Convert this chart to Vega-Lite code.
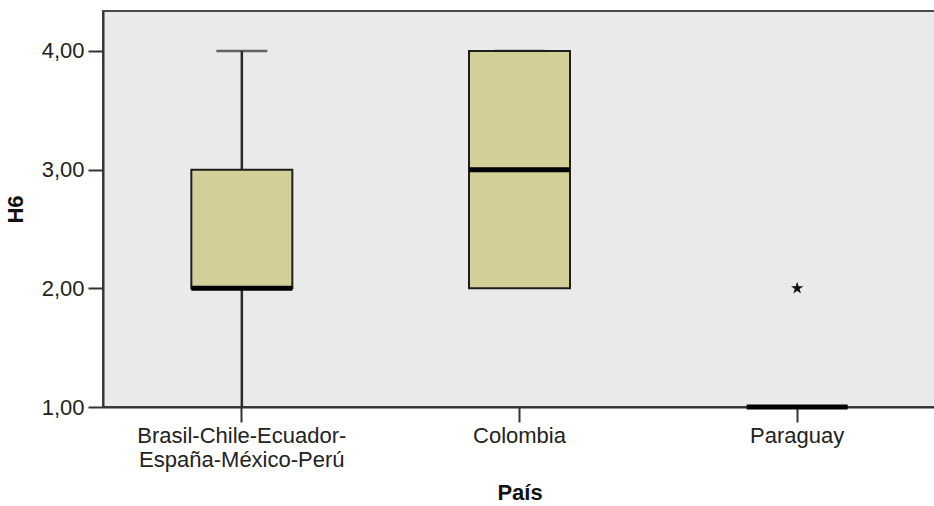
{
  "$schema": "https://vega.github.io/schema/vega-lite/v6.json",
  "width": 833,
  "height": 396,
  "autosize": {"type": "none"},
  "padding": {"left": 103, "top": 11, "right": 0, "bottom": 99},
  "background": "white",
  "config": {
    "view": {"fill": "#EAEAEA", "stroke": "#4a4a4a", "strokeWidth": 2},
    "font": "Liberation Sans",
    "axis": {
      "labelFont": "Liberation Sans",
      "titleFont": "Liberation Sans",
      "labelFontSize": 22,
      "titleFontSize": 22,
      "labelColor": "#222222",
      "titleColor": "#111111",
      "domainColor": "#333333",
      "domainWidth": 2,
      "tickColor": "#333333",
      "tickWidth": 2,
      "tickSize": 15,
      "labelLimit": 0,
      "grid": false
    }
  },
  "datasets": {
    "boxes": [
      {"pais": "Brasil-Chile-Ecuador-España-México-Perú", "lower": 1, "q1": 2, "median": 2, "q3": 3, "upper": 4},
      {"pais": "Colombia", "lower": 2, "q1": 2, "median": 3, "q3": 4, "upper": 4},
      {"pais": "Paraguay", "lower": 1, "q1": 1, "median": 1, "q3": 1, "upper": 1}
    ],
    "outliers": [
      {"pais": "Paraguay", "value": 2}
    ]
  },
  "data": {"name": "boxes"},
  "encoding": {
    "x": {
      "field": "pais",
      "type": "nominal",
      "sort": null,
      "scale": {"paddingInner": 0, "paddingOuter": 0},
      "axis": {
        "title": "País",
        "titleFontWeight": "bold",
        "titlePadding": 12,
        "labelAngle": 0,
        "labelPadding": 3,
        "labelLineHeight": 24,
        "labelLimit": 0,
        "labelExpr": "datum.label == 'Brasil-Chile-Ecuador-España-México-Perú' ? ['Brasil-Chile-Ecuador-', 'España-México-Perú'] : datum.label"
      }
    }
  },
  "layer": [
    {
      "mark": {"type": "rule", "color": "#2a2a2a", "strokeWidth": 2.5},
      "encoding": {
        "y": {
          "field": "lower",
          "type": "quantitative",
          "scale": {"domain": [1, 4.337], "nice": false, "zero": false},
          "axis": {
            "title": "H6",
            "titleFontWeight": "bold",
            "titlePadding": 14,
            "values": [1, 2, 3, 4],
            "labelPadding": 4,
            "labelExpr": "replace(format(datum.value, '.2f'), '.', ',')"
          }
        },
        "y2": {"field": "upper"}
      }
    },
    {
      "mark": {"type": "tick", "color": "#2a2a2a", "size": 51, "thickness": 2.5},
      "encoding": {"y": {"field": "upper", "type": "quantitative"}}
    },
    {
      "mark": {"type": "bar", "size": 101, "fill": "#D3CF99", "stroke": "#1e1e1e", "strokeWidth": 2},
      "encoding": {
        "y": {"field": "q1", "type": "quantitative"},
        "y2": {"field": "q3"}
      }
    },
    {
      "mark": {"type": "tick", "color": "#000000", "size": 101, "thickness": 5, "opacity": 1},
      "encoding": {"y": {"field": "median", "type": "quantitative"}}
    },
    {
      "data": {"name": "outliers"},
      "mark": {
        "type": "point",
        "filled": true,
        "color": "#111111",
        "opacity": 1,
        "size": 170,
        "shape": "M0,-1L0.2245,-0.309L0.951,-0.309L0.363,0.118L0.588,0.809L0,0.382L-0.588,0.809L-0.363,0.118L-0.951,-0.309L-0.2245,-0.309Z"
      },
      "encoding": {"y": {"field": "value", "type": "quantitative"}}
    }
  ]
}
